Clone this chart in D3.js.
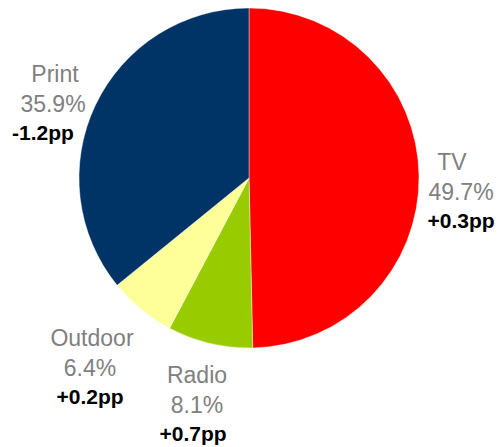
<!DOCTYPE html>
<html>
<head>
<meta charset="utf-8">
<script src="https://cdn.jsdelivr.net/npm/d3@7"></script>
<style>
  html, body { margin: 0; padding: 0; background: #fff; }
  svg { display: block; }
</style>
</head>
<body>
<svg id="chart" width="500" height="447"></svg>
<script>
// ---- data ----
const categories = ["TV", "Radio", "Outdoor", "Print"];
const shares = [49.7, 8.1, 6.4, 35.9];
const shareLabels = ["49.7%", "8.1%", "6.4%", "35.9%"];
const changeLabels = ["+0.3pp", "+0.7pp", "+0.2pp", "-1.2pp"];
const colors = ["#FF0000", "#99CC00", "#FFFF99", "#003366"];

// ---- layout ----
const W = 500, H = 447;
const cx = 249, cy = 178, R = 170;
// label placement per slice: x for each of the three lines, baseline of first line
const labelLayout = {
  "TV":      { xs: [452, 461, 461], y: 170 },
  "Radio":   { xs: [197, 197, 193], y: 383 },
  "Outdoor": { xs: [92, 90, 90],    y: 346 },
  "Print":   { xs: [55, 53, 43],    y: 82 }
};

const svg = d3.select("#chart");
const g = svg.append("g").attr("transform", `translate(${cx},${cy})`);

const data = categories.map((c, i) => ({ cat: c, value: shares[i], share: shareLabels[i], change: changeLabels[i], color: colors[i] }));

const pie = d3.pie().sort(null).value(d => d.value);
const arc = d3.arc().innerRadius(0).outerRadius(R);

g.selectAll("path.slice")
  .data(pie(data))
  .join("path")
  .attr("class", "slice")
  .attr("d", arc)
  .attr("fill", d => d.data.color)
  .attr("stroke", "#ffffff")
  .attr("stroke-width", 0.4);

const font = "'Liberation Sans', Arial, Helvetica, sans-serif";
const labels = svg.selectAll("g.label")
  .data(data)
  .join("g")
  .attr("class", "label");

labels.each(function(d) {
  const L = labelLayout[d.cat];
  const sel = d3.select(this);
  sel.append("text")
    .attr("x", L.xs[0]).attr("y", L.y)
    .attr("text-anchor", "middle")
    .attr("font-family", font).attr("font-size", 23)
    .attr("fill", "#808080")
    .text(d.cat);
  sel.append("text")
    .attr("x", L.xs[1]).attr("y", L.y + 30)
    .attr("text-anchor", "middle")
    .attr("font-family", font).attr("font-size", 23)
    .attr("fill", "#808080")
    .text(d.share);
  sel.append("text")
    .attr("x", L.xs[2]).attr("y", L.y + 57.5)
    .attr("text-anchor", "middle")
    .attr("font-family", font).attr("font-size", 21)
    .attr("font-weight", "bold")
    .attr("fill", "#000000")
    .text(d.change);
});
</script>
</body>
</html>
